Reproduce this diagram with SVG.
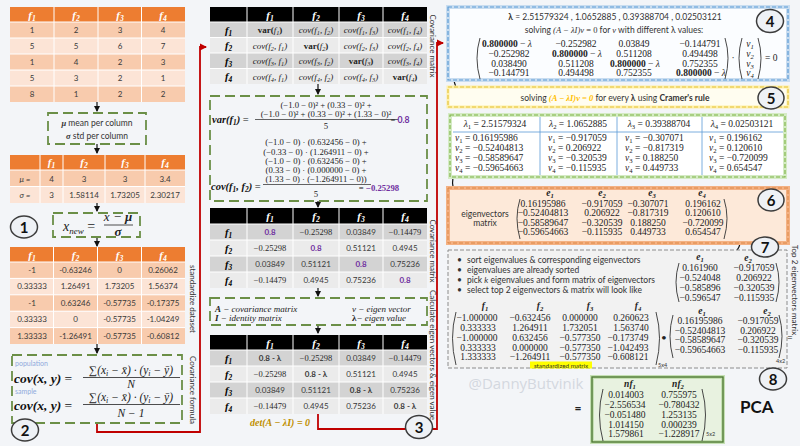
<svg xmlns="http://www.w3.org/2000/svg" width="800" height="446" viewBox="0 0 800 446">
<defs>
<marker id="ab" viewBox="0 0 6 6" refX="5" refY="3" markerWidth="5" markerHeight="5" orient="auto"><path d="M0,0L6,3L0,6z" fill="#111"/></marker>
<marker id="ar" viewBox="0 0 6 6" refX="5" refY="3" markerWidth="4" markerHeight="4" orient="auto"><path d="M0,0L6,3L0,6z" fill="#c00000"/></marker>
</defs>
<style>
.sans{font-family:Lato,"Liberation Sans",sans-serif}
.serif{font-family:"Liberation Serif","DejaVu Serif",serif}
.hO{fill:#ed7d31}.rD{fill:#f8cbad}.rL{fill:#fce4d6}
.hK{fill:#000}.gD{fill:#d3d3d3}.gL{fill:#ebebeb}
.sep{stroke:#fff;stroke-width:1;fill:none}
.tv{font-family:Lato,"Liberation Sans",sans-serif;font-size:8px;text-anchor:middle;fill:#3a3a3a}
.tn{font-family:"Liberation Serif","DejaVu Serif",serif;font-size:8.5px;text-anchor:middle;fill:#2a2a2a}
.hf{font-family:"Liberation Serif","DejaVu Serif",serif;font-style:italic;font-weight:bold;font-size:11px;fill:#fff;text-anchor:middle}
.rf{font-family:"Liberation Serif","DejaVu Serif",serif;font-style:italic;font-weight:bold;font-size:10.5px;fill:#000;text-anchor:middle}
.c{font-family:"Liberation Serif","DejaVu Serif",serif;font-style:italic;font-size:9px;fill:#222;text-anchor:middle}
.vb{font-style:normal;font-weight:bold}
.s{font-size:70%;baseline-shift:-2px}
.dash{fill:none;stroke:#6b8f47;stroke-width:1.8;stroke-dasharray:10 5}
.red{fill:none;stroke:#c00000;stroke-width:1.8}
.arr{fill:none;stroke:#111;stroke-width:1.2;marker-end:url(#ab)}
.circ{fill:#eef1f5;stroke:#3c3c3c;stroke-width:1.5}
.cnum{font-family:Lato,"Liberation Sans",sans-serif;font-weight:bold;font-size:15px;text-anchor:middle;fill:#111}
.vt{font-family:Lato,"Liberation Sans",sans-serif;font-size:8px;fill:#333;text-anchor:middle}
.fx{font-family:"Liberation Serif","DejaVu Serif",serif;font-size:8.7px;fill:#222;text-anchor:middle}
.m{font-family:"Liberation Serif","DejaVu Serif",serif;font-size:9.5px;fill:#222;text-anchor:middle}
.ml{font-family:"Liberation Serif","DejaVu Serif",serif;font-size:9.5px;fill:#222}
.bi{font-family:"Liberation Serif","DejaVu Serif",serif;font-style:italic;font-weight:bold}
.paren{fill:none;stroke:#333;stroke-width:0.9}
.pur{fill:#7030a0;font-weight:bold}
.txt{font-family:Lato,"Liberation Sans",sans-serif;font-size:8.5px;fill:#333}
</style>
<rect width="800" height="446" fill="#f3f5f8"/>

<!-- connectors -->
<g id="connectors">
<path class="arr" d="M97 102V111"/>
<path class="arr" d="M97 144V153"/>
<path class="arr" d="M97 203V211"/>
<path class="arr" d="M97 237V246"/>
<path class="arr" d="M97 344V353"/>
<path class="arr" d="M318 84V94"/>
<path class="arr" d="M318 201V207"/>
<path class="arr" d="M318 288V296"/>
<path class="arr" d="M318 325V333"/>
<path class="red" d="M97 423V432H200V47H206" marker-end="url(#ar)"/>
<path class="red" d="M318 414V429H437V43H443" marker-end="url(#ar)"/>
<path class="arr" d="M460 58C449 74 453 91 467 98"/>
<path class="arr" d="M457 167C449 182 452 195 465 201"/>
<path class="arr" d="M726 215C747 224 744 246 731 257"/>
</g>

<!-- Left column -->
<g id="data-table">
<rect class="hO" x="10" y="7" width="175" height="15"/>
<rect class="rD" x="10" y="22" width="175" height="16"/>
<rect class="rL" x="10" y="38" width="175" height="16"/>
<rect class="rD" x="10" y="54" width="175" height="16"/>
<rect class="rL" x="10" y="70" width="175" height="16"/>
<rect class="rD" x="10" y="86" width="175" height="16"/>
<path class="sep" d="M54 7V102M98 7V102M141.5 7V102M10 22H185M10 38H185M10 54H185M10 70H185M10 86H185"/>
<text class="hf" x="32" y="18.5">f<tspan class="s">1</tspan></text>
<text class="hf" x="76" y="18.5">f<tspan class="s">2</tspan></text>
<text class="hf" x="120" y="18.5">f<tspan class="s">3</tspan></text>
<text class="hf" x="163" y="18.5">f<tspan class="s">4</tspan></text>
<text class="tv" x="32" y="33">1</text><text class="tv" x="76" y="33">2</text><text class="tv" x="120" y="33">3</text><text class="tv" x="163" y="33">4</text>
<text class="tv" x="32" y="49">5</text><text class="tv" x="76" y="49">5</text><text class="tv" x="120" y="49">6</text><text class="tv" x="163" y="49">7</text>
<text class="tv" x="32" y="65">1</text><text class="tv" x="76" y="65">4</text><text class="tv" x="120" y="65">2</text><text class="tv" x="163" y="65">3</text>
<text class="tv" x="32" y="81">5</text><text class="tv" x="76" y="81">3</text><text class="tv" x="120" y="81">2</text><text class="tv" x="163" y="81">1</text>
<text class="tv" x="32" y="97">8</text><text class="tv" x="76" y="97">1</text><text class="tv" x="120" y="97">2</text><text class="tv" x="163" y="97">2</text>
</g>

<g id="mean-std-box">
<rect class="dash" x="48" y="113" width="98" height="31"/>
<text class="txt" x="97" y="126" text-anchor="middle" font-size="8.5"><tspan class="bi">μ</tspan> mean per column</text>
<text class="txt" x="97" y="139" text-anchor="middle" font-size="8.5"><tspan class="bi">σ</tspan> std per column</text>
</g>

<g id="stats-table">
<rect class="hO" x="10" y="155" width="175" height="15"/>
<rect class="rD" x="10" y="170" width="175" height="16.5"/>
<rect class="rL" x="10" y="186.5" width="175" height="16.5"/>
<path class="sep" d="M40 155V203M63 155V203M105 155V203M145 155V203M10 170H185M10 186.5H185"/>
<text class="hf" x="51.5" y="166">f<tspan class="s">1</tspan></text>
<text class="hf" x="84" y="166">f<tspan class="s">2</tspan></text>
<text class="hf" x="125" y="166">f<tspan class="s">3</tspan></text>
<text class="hf" x="165" y="166">f<tspan class="s">4</tspan></text>
<text class="tv" x="25" y="181.5" font-style="italic">μ =</text><text class="tv" x="51.5" y="181.5">4</text><text class="tv" x="84" y="181.5">3</text><text class="tv" x="125" y="181.5">3</text><text class="tv" x="165" y="181.5">3.4</text>
<text class="tv" x="25" y="198" font-style="italic">σ =</text><text class="tv" x="51.5" y="198">3</text><text class="tv" x="84" y="198">1.58114</text><text class="tv" x="125" y="198">1.73205</text><text class="tv" x="165" y="198">2.30217</text>
</g>

<g id="step1">
<ellipse class="circ" cx="24" cy="227" rx="13.5" ry="11"/>
<text class="cnum" x="24" y="232.5">1</text>
</g>

<g id="standardize-formula">
<rect class="dash" x="53" y="213" width="87" height="24"/>
<text class="serif" font-style="italic" font-size="14" x="63" y="231" fill="#222">x<tspan font-size="9" baseline-shift="-3">new</tspan><tspan font-style="normal"> =</tspan></text>
<path d="M104 225H133" stroke="#222" stroke-width="0.8"/>
<text class="serif" font-style="italic" font-size="13" x="118" y="221" text-anchor="middle" fill="#222">x − <tspan font-weight="bold">μ</tspan></text>
<text class="serif" font-style="italic" font-weight="bold" font-size="13" x="118" y="236" text-anchor="middle" fill="#222">σ</text>
</g>

<g id="standardized-table">
<rect class="hO" x="10" y="247" width="175" height="15"/>
<rect class="rD" x="10" y="262" width="175" height="16.4"/>
<rect class="rL" x="10" y="278.4" width="175" height="16.4"/>
<rect class="rD" x="10" y="294.8" width="175" height="16.4"/>
<rect class="rL" x="10" y="311.2" width="175" height="16.4"/>
<rect class="rD" x="10" y="327.6" width="175" height="16.4"/>
<path class="sep" d="M53.5 247V344M97.5 247V344M141.5 247V344M10 262H185M10 278.4H185M10 294.8H185M10 311.2H185M10 327.6H185"/>
<text class="hf" x="32" y="258.5">f<tspan class="s">1</tspan></text>
<text class="hf" x="75.5" y="258.5">f<tspan class="s">2</tspan></text>
<text class="hf" x="119.5" y="258.5">f<tspan class="s">3</tspan></text>
<text class="hf" x="163" y="258.5">f<tspan class="s">4</tspan></text>
<text class="tv" x="32" y="273">-1</text><text class="tv" x="75.5" y="273">-0.63246</text><text class="tv" x="119.5" y="273">0</text><text class="tv" x="163" y="273">0.26062</text>
<text class="tv" x="32" y="289.4">0.33333</text><text class="tv" x="75.5" y="289.4">1.26491</text><text class="tv" x="119.5" y="289.4">1.73205</text><text class="tv" x="163" y="289.4">1.56374</text>
<text class="tv" x="32" y="305.8">-1</text><text class="tv" x="75.5" y="305.8">0.63246</text><text class="tv" x="119.5" y="305.8">-0.57735</text><text class="tv" x="163" y="305.8">-0.17375</text>
<text class="tv" x="32" y="322.2">0.33333</text><text class="tv" x="75.5" y="322.2">0</text><text class="tv" x="119.5" y="322.2">-0.57735</text><text class="tv" x="163" y="322.2">-1.04249</text>
<text class="tv" x="32" y="338.6">1.33333</text><text class="tv" x="75.5" y="338.6">-1.26491</text><text class="tv" x="119.5" y="338.6">-0.57735</text><text class="tv" x="163" y="338.6">-0.60812</text>
</g>
<text class="vt" transform="translate(190,299) rotate(90)">standardize dataset</text>

<g id="covariance-formula">
<rect class="dash" x="12" y="355" width="170" height="68"/>
<text class="sans" x="15" y="366" font-size="7" fill="#8faadc">population</text>
<text class="bi" x="14" y="383" font-size="13.5" fill="#111">cov(x, y) <tspan font-style="normal" font-weight="normal">=</tspan></text>
<text class="serif" font-style="italic" font-size="11.5" x="131" y="374" text-anchor="middle" fill="#222"><tspan font-style="normal">∑</tspan>(x<tspan class="s">i</tspan> − x̄) · (y<tspan class="s">i</tspan> − ȳ)</text>
<path d="M83 377.5H180" stroke="#222" stroke-width="0.8"/>
<text class="serif" font-style="italic" font-size="11.5" x="131" y="388" text-anchor="middle" fill="#222">N</text>
<text class="sans" x="15" y="394" font-size="7" fill="#8faadc">sample</text>
<text class="bi" x="14" y="410" font-size="13.5" fill="#111">cov(x, y) <tspan font-style="normal" font-weight="normal">=</tspan></text>
<text class="serif" font-style="italic" font-size="11.5" x="131" y="401" text-anchor="middle" fill="#222"><tspan font-style="normal">∑</tspan>(x<tspan class="s">i</tspan> − x̄) · (y<tspan class="s">i</tspan> − ȳ)</text>
<path d="M83 404.5H180" stroke="#222" stroke-width="0.8"/>
<text class="serif" font-style="italic" font-size="11.5" x="131" y="417" text-anchor="middle" fill="#222">N − 1</text>
</g>
<text class="vt" transform="translate(190,390) rotate(90)">Covariance formula</text>

<g id="step2">
<ellipse class="circ" cx="25" cy="430" rx="13.5" ry="11"/>
<text class="cnum" x="25" y="435.5">2</text>
</g>

<!-- Middle column -->
<g id="cov-symbolic-table">
<rect class="hK" x="210" y="7" width="217" height="15"/>
<rect class="gD" x="210" y="22" width="217" height="15.5"/>
<rect class="gL" x="210" y="37.5" width="217" height="15.5"/>
<rect class="gD" x="210" y="53" width="217" height="15.5"/>
<rect class="gL" x="210" y="68.5" width="217" height="15.5"/>
<path class="sep" d="M247 7V84M293 7V84M339 7V84M383 7V84M210 22H427M210 37.5H427M210 53H427M210 68.5H427"/>
<text class="hf" x="270" y="18.5">f<tspan class="s">1</tspan></text>
<text class="hf" x="316" y="18.5">f<tspan class="s">2</tspan></text>
<text class="hf" x="361" y="18.5">f<tspan class="s">3</tspan></text>
<text class="hf" x="405" y="18.5">f<tspan class="s">4</tspan></text>
<text class="rf" x="228.5" y="33.5">f<tspan class="s">1</tspan></text>
<text class="rf" x="228.5" y="49">f<tspan class="s">2</tspan></text>
<text class="rf" x="228.5" y="64.5">f<tspan class="s">3</tspan></text>
<text class="rf" x="228.5" y="80">f<tspan class="s">4</tspan></text>
<text class="c" x="270" y="33"><tspan class="vb">var(</tspan>f<tspan class="s">1</tspan><tspan class="vb">)</tspan></text>
<text class="c" x="316" y="33">cov(f<tspan class="s">1</tspan>, f<tspan class="s">2</tspan>)</text>
<text class="c" x="361" y="33">cov(f<tspan class="s">1</tspan>, f<tspan class="s">3</tspan>)</text>
<text class="c" x="405" y="33">cov(f<tspan class="s">1</tspan>, f<tspan class="s">4</tspan>)</text>
<text class="c" x="270" y="48.5">cov(f<tspan class="s">2</tspan>, f<tspan class="s">1</tspan>)</text>
<text class="c" x="316" y="48.5"><tspan class="vb">var(</tspan>f<tspan class="s">2</tspan><tspan class="vb">)</tspan></text>
<text class="c" x="361" y="48.5">cov(f<tspan class="s">2</tspan>, f<tspan class="s">3</tspan>)</text>
<text class="c" x="405" y="48.5">cov(f<tspan class="s">2</tspan>, f<tspan class="s">4</tspan>)</text>
<text class="c" x="270" y="64">cov(f<tspan class="s">3</tspan>, f<tspan class="s">1</tspan>)</text>
<text class="c" x="316" y="64">cov(f<tspan class="s">3</tspan>, f<tspan class="s">2</tspan>)</text>
<text class="c" x="361" y="64"><tspan class="vb">var(</tspan>f<tspan class="s">3</tspan><tspan class="vb">)</tspan></text>
<text class="c" x="405" y="64">cov(f<tspan class="s">3</tspan>, f<tspan class="s">4</tspan>)</text>
<text class="c" x="270" y="79.5">cov(f<tspan class="s">4</tspan>, f<tspan class="s">1</tspan>)</text>
<text class="c" x="316" y="79.5">cov(f<tspan class="s">4</tspan>, f<tspan class="s">2</tspan>)</text>
<text class="c" x="361" y="79.5">cov(f<tspan class="s">4</tspan>, f<tspan class="s">3</tspan>)</text>
<text class="c" x="405" y="79.5"><tspan class="vb">var(</tspan>f<tspan class="s">4</tspan><tspan class="vb">)</tspan></text>
</g>
<text class="vt" transform="translate(430,46) rotate(90)">Covariance matrix</text>

<g id="var-cov-calc">
<rect class="dash" x="210" y="96" width="217" height="105"/>
<text class="fx" x="326" y="108">(−1.0 − 0)² +  (0.33 − 0)² +</text>
<text class="fx" x="326" y="116.5">(−1.0 − 0)² + (0.33 − 0)² + (1.33 − 0)²</text>
<path d="M255 119.5H398" stroke="#222" stroke-width="0.7"/>
<text class="fx" x="326" y="129">5</text>
<text class="bi" x="212" y="122.5" font-size="10.5" fill="#111">var(f<tspan class="s">1</tspan>) <tspan font-style="normal" font-weight="normal">=</tspan></text>
<text class="fx" x="400" y="122.5" text-anchor="start">= <tspan class="sans pur">0.8</tspan></text>
<text class="fx" x="316" y="145">(−1.0 − 0) · (0.632456 − 0) +</text>
<text class="fx" x="316" y="154.5">(−0.33 − 0) · (1.264911 − 0) +</text>
<text class="fx" x="316" y="164">(−1.0 − 0) · (0.632456 − 0) +</text>
<text class="fx" x="316" y="173">(0.33 − 0) · (0.000000 − 0) +</text>
<text class="fx" x="316" y="182">(1.33 − 0) · (−1.264911 − 0))</text>
<path d="M263 184.5H371" stroke="#222" stroke-width="0.7"/>
<text class="fx" x="316" y="197">5</text>
<text class="bi" x="211" y="189.5" font-size="10.5" fill="#111">cov(f<tspan class="s">1</tspan>, f<tspan class="s">2</tspan>) <tspan font-style="normal" font-weight="normal">=</tspan></text>
<text class="fx" x="379" y="191" text-anchor="start">= <tspan class="pur">−0.25298</tspan></text>
</g>

<g id="cov-numeric-table">
<rect class="hK" x="210" y="208" width="217" height="16"/>
<rect class="gD" x="210" y="224" width="217" height="16"/>
<rect class="gL" x="210" y="240" width="217" height="16"/>
<rect class="gD" x="210" y="256" width="217" height="16"/>
<rect class="gL" x="210" y="272" width="217" height="16"/>
<path class="sep" d="M247 208V288M293 208V288M339 208V288M383 208V288M210 224H427M210 240H427M210 256H427M210 272H427"/>
<text class="hf" x="270" y="220">f<tspan class="s">1</tspan></text>
<text class="hf" x="316" y="220">f<tspan class="s">2</tspan></text>
<text class="hf" x="361" y="220">f<tspan class="s">3</tspan></text>
<text class="hf" x="405" y="220">f<tspan class="s">4</tspan></text>
<text class="rf" x="228.5" y="235.5">f<tspan class="s">1</tspan></text>
<text class="rf" x="228.5" y="251.5">f<tspan class="s">2</tspan></text>
<text class="rf" x="228.5" y="267.5">f<tspan class="s">3</tspan></text>
<text class="rf" x="228.5" y="283.5">f<tspan class="s">4</tspan></text>
<text class="tv pur" x="270" y="235" font-size="8.5">0.8</text><text class="tn" x="316" y="235">−0.25298</text><text class="tv" x="361" y="235">0.03849</text><text class="tn" x="405" y="235">−0.14479</text>
<text class="tn" x="270" y="251">−0.25298</text><text class="tv pur" x="316" y="251" font-size="8.5">0.8</text><text class="tv" x="361" y="251">0.51121</text><text class="tv" x="405" y="251">0.4945</text>
<text class="tv" x="270" y="267">0.03849</text><text class="tv" x="316" y="267">0.51121</text><text class="tv pur" x="361" y="267" font-size="8.5">0.8</text><text class="tv" x="405" y="267">0.75236</text>
<text class="tn" x="270" y="283">−0.14479</text><text class="tv" x="316" y="283">0.4945</text><text class="tv" x="361" y="283">0.75236</text><text class="tv pur" x="405" y="283" font-size="8.5">0.8</text>
</g>
<text class="vt" transform="translate(430,251) rotate(90)">Covariance matrix</text>

<g id="definitions">
<rect class="dash" x="210" y="298" width="217" height="27"/>
<text class="serif" font-style="italic" font-size="9" x="215" y="311.5" fill="#222"><tspan font-weight="bold">A</tspan> − covariance matrix</text>
<text class="serif" font-style="italic" font-size="9" x="215" y="321" fill="#222"><tspan font-weight="bold">I</tspan>  − identity matrix</text>
<text class="serif" font-style="italic" font-size="9" x="352" y="311.5" fill="#222">v − eigen vector</text>
<text class="serif" font-style="italic" font-size="9" x="352" y="321" fill="#222"><tspan font-style="normal" font-weight="bold">λ</tspan>−  eigen value</text>
</g>

<g id="char-table">
<rect class="hK" x="210" y="335" width="217" height="15"/>
<rect class="gD" x="210" y="350" width="217" height="16"/>
<rect class="gL" x="210" y="366" width="217" height="16"/>
<rect class="gD" x="210" y="382" width="217" height="16"/>
<rect class="gL" x="210" y="398" width="217" height="16"/>
<path class="sep" d="M247 335V414M293 335V414M339 335V414M383 335V414M210 350H427M210 366H427M210 382H427M210 398H427"/>
<text class="hf" x="270" y="346.5">f<tspan class="s">1</tspan></text>
<text class="hf" x="316" y="346.5">f<tspan class="s">2</tspan></text>
<text class="hf" x="361" y="346.5">f<tspan class="s">3</tspan></text>
<text class="hf" x="405" y="346.5">f<tspan class="s">4</tspan></text>
<text class="rf" x="228.5" y="361.5">f<tspan class="s">1</tspan></text>
<text class="rf" x="228.5" y="377.5">f<tspan class="s">2</tspan></text>
<text class="rf" x="228.5" y="393.5">f<tspan class="s">3</tspan></text>
<text class="rf" x="228.5" y="409.5">f<tspan class="s">4</tspan></text>
<text class="tv" x="270" y="361" font-weight="bold" font-size="8.5">0.8 - λ</text><text class="tn" x="316" y="361">−0.25298</text><text class="tv" x="361" y="361">0.03849</text><text class="tn" x="405" y="361">−0.14479</text>
<text class="tn" x="270" y="377">−0.25298</text><text class="tv" x="316" y="377" font-weight="bold" font-size="8.5">0.8 - λ</text><text class="tv" x="361" y="377">0.51121</text><text class="tv" x="405" y="377">0.4945</text>
<text class="tv" x="270" y="393">0.03849</text><text class="tv" x="316" y="393">0.51121</text><text class="tv" x="361" y="393" font-weight="bold" font-size="8.5">0.8 - λ</text><text class="tv" x="405" y="393">0.75236</text>
<text class="tn" x="270" y="409">−0.14479</text><text class="tv" x="316" y="409">0.4945</text><text class="tv" x="361" y="409">0.75236</text><text class="tv" x="405" y="409" font-weight="bold" font-size="8.5">0.8 - λ</text>
<text class="bi" x="250" y="426" font-size="10" fill="#bf8f00">det(A − λI) = 0</text>
</g>
<text class="vt" transform="translate(430,355) rotate(90)" font-size="7">Calculate eigen vectors &amp; eigen value</text>

<g id="step3">
<ellipse class="circ" cx="419" cy="427" rx="13.5" ry="11.5"/>
<text class="cnum" x="419" y="432.5">3</text>
</g>

<!-- Right column -->
<g id="eigen-equation">
<rect x="448" y="7" width="340" height="73" fill="#fbfdff" stroke="#c9ddf0" stroke-width="4"/>
<rect x="448" y="7" width="340" height="73" fill="none" stroke="#5b9bd5" stroke-width="1.2" stroke-dasharray="4 2"/>
<text class="txt" x="615" y="20" text-anchor="middle"><tspan font-weight="bold">λ</tspan> = 2.51579324 , 1.0652885 , 0.39388704 , 0.02503121</text>
<text class="txt" x="614" y="33" text-anchor="middle">solving <tspan class="serif" font-style="italic">(A − λI)v</tspan> <tspan class="serif">= 0</tspan> for <tspan class="serif" font-style="italic">v</tspan> with different λ values:</text>
<path class="paren" d="M480 38Q474 58 480 79"/>
<path class="paren" d="M725 38Q731 58 725 79"/>
<text class="m" x="507" y="46.5"><tspan font-weight="bold">0.800000</tspan> − <tspan font-style="italic">λ</tspan></text>
<text class="m" x="509" y="56.5">−0.252982</text>
<text class="m" x="509" y="66.5">0.038490</text>
<text class="m" x="509" y="76">−0.144791</text>
<text class="m" x="576" y="46.5">−0.252982</text>
<text class="m" x="577" y="56.5"><tspan font-weight="bold">0.800000</tspan> − <tspan font-style="italic">λ</tspan></text>
<text class="m" x="576" y="66.5">0.511208</text>
<text class="m" x="576" y="76">0.494498</text>
<text class="m" x="634" y="46.5">0.03849</text>
<text class="m" x="634" y="56.5">0.511208</text>
<text class="m" x="635" y="66.5"><tspan font-weight="bold">0.800000</tspan> − <tspan font-style="italic">λ</tspan></text>
<text class="m" x="634" y="76">0.752355</text>
<text class="m" x="700" y="46.5">−0.144791</text>
<text class="m" x="700" y="56.5">0.494498</text>
<text class="m" x="700" y="66.5">0.752355</text>
<text class="m" x="701" y="76"><tspan font-weight="bold">0.800000</tspan> − <tspan font-style="italic">λ</tspan></text>
<text class="m" x="733" y="61">·</text>
<path class="paren" d="M742 38Q736 58 742 79"/>
<path class="paren" d="M758 38Q764 58 758 79"/>
<text class="m" x="750" y="46.5" font-style="italic">v<tspan class="s">1</tspan></text>
<text class="m" x="750" y="56.5" font-style="italic">v<tspan class="s">2</tspan></text>
<text class="m" x="750" y="66.5" font-style="italic">v<tspan class="s">3</tspan></text>
<text class="m" x="750" y="76" font-style="italic">v<tspan class="s">4</tspan></text>
<text class="ml" x="765" y="61">= 0</text>
</g>
<g id="step4">
<ellipse class="circ" cx="770" cy="21" rx="13.5" ry="11.5"/>
<text class="cnum" x="770" y="26.5">4</text>
</g>

<g id="cramer">
<rect x="448" y="87" width="340" height="20" fill="#fffdf0" stroke="#fff0a8" stroke-width="3"/>
<rect x="448" y="87" width="340" height="20" fill="none" stroke="#e3c23a" stroke-width="1.1" stroke-dasharray="4 2"/>
<text class="txt" x="615" y="100.5" text-anchor="middle">solving <tspan class="bi" fill="#ffc000">(A − λI)v = 0</tspan> for every <tspan font-weight="bold">λ</tspan> using <tspan font-weight="bold">Cramer's rule</tspan></text>
</g>
<g id="step5">
<ellipse class="circ" cx="771" cy="98" rx="13" ry="11"/>
<text class="cnum" x="771" y="103.5">5</text>
</g>

<g id="eigen-table">
<rect x="450" y="115" width="335" height="62" fill="#ffffff" stroke="#d5ebc5" stroke-width="4"/>
<rect x="450" y="115" width="335" height="62" fill="none" stroke="#7cb342" stroke-width="1.1" stroke-dasharray="4 2"/>
<path d="M453 132H783M540 117V175M617 117V175M702 117V175" stroke="#5b9bd5" stroke-width="0.8" fill="none"/>
<text class="m" x="495" y="126.5"><tspan font-style="italic">λ</tspan><tspan class="s">1</tspan> = 2.51579324</text>
<text class="m" x="578" y="126.5"><tspan font-style="italic">λ</tspan><tspan class="s">2</tspan> = 1.0652885</text>
<text class="m" x="659" y="126.5"><tspan font-style="italic">λ</tspan><tspan class="s">3</tspan> = 0.39388704</text>
<text class="m" x="742" y="126.5"><tspan font-style="italic">λ</tspan><tspan class="s">4</tspan> = 0.02503121</text>
<text class="ml" x="455" y="141"><tspan font-style="italic">v</tspan><tspan class="s">1</tspan> = 0.16195986</text>
<text class="ml" x="455" y="151"><tspan font-style="italic">v</tspan><tspan class="s">2</tspan> = −0.52404813</text>
<text class="ml" x="455" y="161"><tspan font-style="italic">v</tspan><tspan class="s">3</tspan> = −0.58589647</text>
<text class="ml" x="455" y="171"><tspan font-style="italic">v</tspan><tspan class="s">4</tspan> = −0.59654663</text>
<text class="ml" x="548" y="141"><tspan font-style="italic">v</tspan><tspan class="s">1</tspan> = −0.917059</text>
<text class="ml" x="548" y="151"><tspan font-style="italic">v</tspan><tspan class="s">2</tspan> = 0.206922</text>
<text class="ml" x="548" y="161"><tspan font-style="italic">v</tspan><tspan class="s">3</tspan> = −0.320539</text>
<text class="ml" x="548" y="171"><tspan font-style="italic">v</tspan><tspan class="s">4</tspan> = −0.115935</text>
<text class="ml" x="625" y="141"><tspan font-style="italic">v</tspan><tspan class="s">1</tspan> = −0.307071</text>
<text class="ml" x="625" y="151"><tspan font-style="italic">v</tspan><tspan class="s">2</tspan> = −0.817319</text>
<text class="ml" x="625" y="161"><tspan font-style="italic">v</tspan><tspan class="s">3</tspan> = 0.188250</text>
<text class="ml" x="625" y="171"><tspan font-style="italic">v</tspan><tspan class="s">4</tspan> = 0.449733</text>
<text class="ml" x="709" y="141"><tspan font-style="italic">v</tspan><tspan class="s">1</tspan> = 0.196162</text>
<text class="ml" x="709" y="151"><tspan font-style="italic">v</tspan><tspan class="s">2</tspan> = 0.120610</text>
<text class="ml" x="709" y="161"><tspan font-style="italic">v</tspan><tspan class="s">3</tspan> = −0.720099</text>
<text class="ml" x="709" y="171"><tspan font-style="italic">v</tspan><tspan class="s">4</tspan> = 0.654547</text>
</g>

<g id="eigenvector-matrix">
<rect x="448" y="188" width="340" height="55" fill="#fde9d9" stroke="#f4b183" stroke-width="4"/>
<rect x="448" y="188" width="340" height="55" fill="none" stroke="#d9843f" stroke-width="0.9" stroke-dasharray="4 2"/>
<text class="m bi" x="550" y="195.5" font-size="8.5">e<tspan class="s">1</tspan></text>
<text class="m bi" x="602" y="195.5" font-size="8.5">e<tspan class="s">2</tspan></text>
<text class="m bi" x="652" y="195.5" font-size="8.5">e<tspan class="s">3</tspan></text>
<text class="m bi" x="702" y="195.5" font-size="8.5">e<tspan class="s">4</tspan></text>
<text class="txt" x="485" y="217" text-anchor="middle">eigenvectors</text>
<text class="txt" x="485" y="226" text-anchor="middle">matrix</text>
<path class="paren" d="M520 199Q514 218 520 239"/>
<path class="paren" d="M724 199Q730 218 724 239"/>
<text class="m" x="543" y="207">0.16195986</text><text class="m" x="602" y="207">−0.917059</text><text class="m" x="648" y="207">−0.307071</text><text class="m" x="703" y="207">0.196162</text>
<text class="m" x="543" y="216.3">−0.52404813</text><text class="m" x="602" y="216.3">0.206922</text><text class="m" x="648" y="216.3">−0.817319</text><text class="m" x="703" y="216.3">0.120610</text>
<text class="m" x="543" y="225.6">−0.58589647</text><text class="m" x="602" y="225.6">−0.320539</text><text class="m" x="648" y="225.6">0.188250</text><text class="m" x="703" y="225.6">−0.720099</text>
<text class="m" x="543" y="235">−0.59654663</text><text class="m" x="602" y="235">−0.115935</text><text class="m" x="648" y="235">0.449733</text><text class="m" x="703" y="235">0.654547</text>
</g>
<g id="step6">
<ellipse class="circ" cx="771" cy="200" rx="13" ry="11"/>
<text class="cnum" x="771" y="205.5">6</text>
</g>

<g id="projection">
<rect x="448" y="250" width="339" height="118" fill="#f2f2f2" stroke="#8c8c8c" stroke-width="1" stroke-dasharray="4 2"/>
<text class="txt" x="457" y="263">•</text><text class="txt" x="467" y="263">sort eigenvalues &amp; corresponding eigenvectors</text>
<text class="txt" x="457" y="273">•</text><text class="txt" x="467" y="273">eigenvalues are already sorted</text>
<text class="txt" x="457" y="283">•</text><text class="txt" x="467" y="283">pick <tspan font-style="italic">k</tspan> eigenvalues and form matrix of eigenvectors</text>
<text class="txt" x="457" y="293">•</text><text class="txt" x="467" y="293">select top 2 eigenvectors &amp; matrix will look like</text>
<text class="m bi" x="700" y="260">e<tspan class="s">1</tspan></text>
<text class="m bi" x="748" y="261">e<tspan class="s">2</tspan></text>
<path class="paren" d="M679 263Q673 282 679 302"/>
<path class="paren" d="M776 263Q782 282 776 302"/>
<text class="m" x="700" y="271">0.161960</text><text class="m" x="754" y="271">−0.917059</text>
<text class="m" x="700" y="281">−0.524048</text><text class="m" x="754" y="281">0.206922</text>
<text class="m" x="700" y="291">−0.585896</text><text class="m" x="754" y="291">−0.320539</text>
<text class="m" x="700" y="301">−0.596547</text><text class="m" x="754" y="301">−0.115935</text>
<text class="m bi" x="485" y="309" font-size="9.5">f<tspan class="s">1</tspan></text>
<text class="m bi" x="540" y="309" font-size="9.5">f<tspan class="s">2</tspan></text>
<text class="m bi" x="590" y="309" font-size="9.5">f<tspan class="s">3</tspan></text>
<text class="m bi" x="638" y="309" font-size="9.5">f<tspan class="s">4</tspan></text>
<path class="paren" d="M456 312Q449 338 456 365"/>
<path class="paren" d="M656 312Q663 338 656 365"/>
<text class="m" x="477" y="320.5">−1.000000</text><text class="m" x="530" y="320.5">−0.632456</text><text class="m" x="580" y="320.5">0.000000</text><text class="m" x="631" y="320.5">0.260623</text>
<text class="m" x="478" y="330.5">0.333333</text><text class="m" x="530" y="330.5">1.264911</text><text class="m" x="580" y="330.5">1.732051</text><text class="m" x="631" y="330.5">1.563740</text>
<text class="m" x="477" y="340.5">−1.000000</text><text class="m" x="530" y="340.5">0.632456</text><text class="m" x="580" y="340.5">−0.577350</text><text class="m" x="628" y="340.5">−0.173749</text>
<text class="m" x="478" y="350.5">0.333333</text><text class="m" x="530" y="350.5">0.000000</text><text class="m" x="580" y="350.5">−0.577350</text><text class="m" x="628" y="350.5">−1.042493</text>
<text class="m" x="478" y="360">1.333333</text><text class="m" x="530" y="360">−1.264911</text><text class="m" x="580" y="360">−0.577350</text><text class="m" x="628" y="360">−0.608121</text>
<rect x="530" y="361.5" width="62" height="7" fill="#ffff00"/>
<text class="sans" x="561" y="367.5" font-size="6.3" text-anchor="middle" fill="#333">standardized matrix</text>
<text class="sans" x="658" y="367" font-size="5.5" fill="#333">5x4</text>
<text class="sans" x="664" y="341" font-size="10" text-anchor="middle" fill="#222">•</text>
<text class="m bi" x="702" y="313.5" font-size="8.5">e<tspan class="s">1</tspan></text>
<text class="m bi" x="767" y="313.5" font-size="8.5">e<tspan class="s">2</tspan></text>
<path class="paren" d="M673 315Q667 336 673 358"/>
<path class="paren" d="M779 315Q785 336 779 358"/>
<text class="m" x="700" y="324">0.16195986</text><text class="m" x="758" y="324">−0.917059</text>
<text class="m" x="700" y="333.5">−0.52404813</text><text class="m" x="758" y="333.5">0.206922</text>
<text class="m" x="700" y="343">−0.58589647</text><text class="m" x="758" y="343">−0.320539</text>
<text class="m" x="700" y="352.5">−0.59654663</text><text class="m" x="758" y="352.5">−0.115935</text>
<text class="sans" x="776" y="363" font-size="5.5" fill="#333">4x2</text>
<text class="sans" x="790" y="341" font-size="10" text-anchor="middle" fill="#222">=</text>
</g>
<text class="vt" transform="translate(792,290) rotate(90)" font-size="7.5">Top 2 eigenvectors matrix</text>
<g id="step7">
<ellipse class="circ" cx="765" cy="247" rx="13.5" ry="10"/>
<text class="cnum" x="765" y="252.5">7</text>
</g>
<g id="step8">
<ellipse class="circ" cx="773" cy="379" rx="13.5" ry="11"/>
<text class="cnum" x="773" y="384.5">8</text>
</g>

<text x="526" y="389" font-family="'Open Sans',Lato,sans-serif" font-size="15" fill="#d3d8df" text-anchor="middle">@DannyButvinik</text>

<g id="pca-result">
<text class="sans" x="578" y="412" font-size="12" font-weight="bold" fill="#222" text-anchor="middle">=</text>
<rect x="592" y="377" width="131" height="65" fill="#e8f2e0" stroke="#c5e0b4" stroke-width="4"/>
<rect x="592" y="377" width="131" height="65" fill="none" stroke="#4f7a33" stroke-width="1.4"/>
<text class="m bi" x="630" y="386.5">nf<tspan class="s">1</tspan></text>
<text class="m bi" x="678" y="386.5">nf<tspan class="s">2</tspan></text>
<path class="paren" d="M603 389Q596 415 603 441"/>
<path class="paren" d="M702 389Q709 415 702 441"/>
<text class="m" x="626" y="398">0.014003</text><text class="m" x="679" y="398">0.755975</text>
<text class="m" x="625" y="408">−2.556534</text><text class="m" x="679" y="408">−0.780432</text>
<text class="m" x="625" y="418">−0.051480</text><text class="m" x="679" y="418">1.253135</text>
<text class="m" x="626" y="427.5">1.014150</text><text class="m" x="679" y="427.5">0.000239</text>
<text class="m" x="626" y="437">1.579861</text><text class="m" x="679" y="437">−1.228917</text>
<text class="sans" x="706" y="436" font-size="5.5" fill="#333">5x2</text>
</g>
<text x="740" y="413" font-family="Lato,'Liberation Sans',sans-serif" font-size="17" font-weight="bold" fill="#111">PCA</text>
</svg>
